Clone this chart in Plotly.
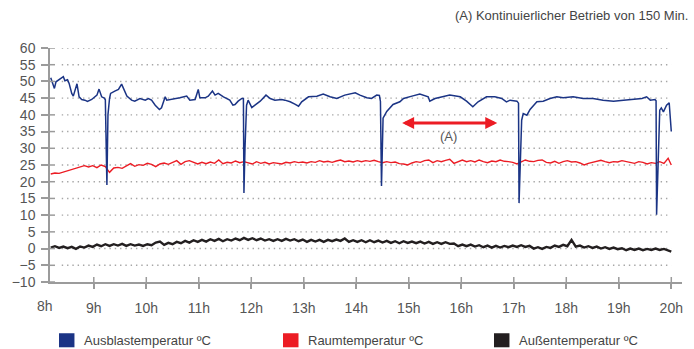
import plotly.graph_objects as go

# --- blow-out temperature (hours, ºC) ---------------------------------------
blow_t = [8.18, 8.25, 8.28, 8.42, 8.45, 8.50, 8.53, 8.58, 8.61, 8.66, 8.68, 8.72, 8.77, 8.83,
          8.88, 8.96, 9.06, 9.10, 9.15, 9.20, 9.22, 9.25, 9.27, 9.30, 9.32, 9.40, 9.47, 9.53,
          9.56, 9.63, 9.72, 9.78, 9.88, 9.98, 10.04, 10.10, 10.17, 10.25, 10.29, 10.36, 10.39,
          10.51, 10.64, 10.77, 10.83, 10.93, 10.99, 11.02, 11.12, 11.18, 11.26, 11.31, 11.37,
          11.47, 11.59, 11.65, 11.69, 11.75, 11.82, 11.85, 11.86, 11.88, 11.91, 11.94, 12.01,
          12.07, 12.17, 12.28, 12.36, 12.45, 12.58, 12.64, 12.74, 12.83, 12.90, 12.96, 13.09,
          13.25, 13.37, 13.50, 13.63, 13.78, 13.98, 14.07, 14.20, 14.29, 14.39, 14.44, 14.46,
          14.48, 14.51, 14.58, 14.64, 14.70, 14.83, 14.90, 15.06, 15.21, 15.37, 15.40, 15.50,
          15.66, 15.78, 15.98, 16.10, 16.22, 16.32, 16.48, 16.64, 16.77, 16.86, 16.93, 17.06,
          17.09, 17.10, 17.15, 17.18, 17.25, 17.31, 17.44, 17.56, 17.69, 17.82, 17.94, 18.13,
          18.32, 18.51, 18.70, 18.90, 19.09, 19.28, 19.44, 19.53, 19.60, 19.69, 19.71, 19.72,
          19.78, 19.81, 19.85, 19.91, 19.96, 20.00]
blow_v = [51.1, 47.9, 49.9, 51.4, 50.2, 50.5, 49.4, 46.4, 45.6, 48.9, 49.3, 45.4, 44.6, 44.4,
          44.0, 44.6, 45.9, 47.7, 45.4, 45.0, 44.5, 19.0, 40.0, 44.9, 46.4, 47.1, 47.6, 49.2,
          48.1, 45.6, 44.4, 44.1, 44.9, 44.4, 44.9, 44.4, 42.9, 41.6, 42.1, 45.4, 44.4,
          44.7, 45.1, 45.6, 44.4, 44.6, 47.6, 45.1, 45.1, 45.6, 47.1, 45.9, 46.4,
          45.4, 44.4, 42.9, 43.1, 44.1, 44.9, 44.9, 16.6, 30.0, 42.9, 44.4, 42.2,
          42.9, 44.1, 45.9, 44.9, 44.4, 44.6, 44.4, 43.9, 43.2, 42.6, 43.9, 45.4,
          45.6, 46.2, 45.4, 44.9, 45.9, 46.6, 45.9, 45.1, 44.9, 45.9, 45.8, 44.0,
          18.7, 39.0, 41.0, 42.1, 43.1, 43.9, 44.9, 45.6, 46.2, 45.4, 44.1, 44.9,
          45.4, 45.9, 45.4, 44.1, 42.4, 43.9, 45.4, 45.4, 44.9, 43.9, 44.4, 44.1,
          43.5, 13.6, 38.4, 40.4, 39.9, 41.6, 43.9, 44.1, 44.9, 45.4, 45.1, 45.4,
          44.9, 44.9, 44.4, 44.1, 44.4, 44.6, 44.9, 45.4, 44.4, 44.6, 44.2, 10.1,
          41.4, 42.1, 40.9, 42.9, 43.6, 35.0]

# --- room and outdoor temperature, logged on a common time base ---------------
log_t = [8.18, 8.26, 8.34, 8.42, 8.50, 8.58, 8.66, 8.74, 8.82, 8.90, 8.98, 9.06, 9.14, 9.22,
         9.30, 9.38, 9.46, 9.54, 9.62, 9.70, 9.78, 9.86, 9.94, 10.02, 10.10, 10.18, 10.26,
         10.34, 10.42, 10.50, 10.58, 10.66, 10.74, 10.82, 10.90, 10.98, 11.06, 11.14, 11.22,
         11.30, 11.38, 11.46, 11.54, 11.62, 11.70, 11.78, 11.86, 11.94, 12.02, 12.10, 12.18,
         12.26, 12.34, 12.42, 12.50, 12.58, 12.66, 12.74, 12.82, 12.90, 12.98, 13.06, 13.14,
         13.22, 13.30, 13.38, 13.46, 13.54, 13.62, 13.70, 13.78, 13.86, 13.94, 14.02, 14.10,
         14.18, 14.26, 14.34, 14.42, 14.50, 14.58, 14.66, 14.74, 14.82, 14.90, 14.98, 15.06,
         15.14, 15.22, 15.30, 15.38, 15.46, 15.54, 15.62, 15.70, 15.78, 15.86, 15.94, 16.02,
         16.10, 16.18, 16.26, 16.34, 16.42, 16.50, 16.58, 16.66, 16.74, 16.82, 16.90, 16.98,
         17.06, 17.14, 17.22, 17.30, 17.38, 17.46, 17.54, 17.62, 17.70, 17.78, 17.86, 17.94,
         18.02, 18.10, 18.18, 18.26, 18.34, 18.42, 18.50, 18.58, 18.66, 18.74, 18.82, 18.90,
         18.98, 19.06, 19.14, 19.22, 19.30, 19.38, 19.46, 19.54, 19.62, 19.70, 19.78, 19.86,
         19.94, 20.00]
room_v = [22.3, 22.6, 22.5, 22.9, 23.1, 23.5, 23.9, 24.4, 24.8, 24.4, 24.8, 24.2, 25.0, 24.5,
          22.8, 24.1, 24.3, 24.0, 24.8, 25.4, 24.6, 25.1, 24.9, 25.5, 25.2, 24.5, 25.3,
          25.6, 25.2, 25.8, 26.3, 25.2, 26.0, 26.3, 25.8, 25.3, 25.8, 25.4, 25.9,
          25.5, 26.5, 25.4, 25.8, 25.6, 26.2, 25.7, 26.0, 25.6, 25.3, 26.0, 25.5,
          25.8, 25.3, 25.7, 25.5, 25.3, 25.8, 25.6, 26.0, 25.7, 25.9, 25.6, 26.0,
          25.8, 26.3, 25.9, 26.1, 25.8, 26.2, 26.5, 26.0, 26.2, 25.9, 26.3, 26.0,
          26.3, 26.1, 26.4, 26.0, 25.7, 26.0, 25.7, 25.9, 25.4, 25.3, 25.0, 25.6,
          26.0, 25.8, 26.3, 26.5, 25.7, 26.3, 26.0, 26.4, 26.7, 25.5, 26.0, 26.5,
          26.0, 26.3, 25.9, 26.5, 26.0, 25.7, 26.2, 26.0, 26.5, 26.1, 26.0, 25.8,
          25.3, 26.0, 26.5, 26.1, 26.0, 26.4, 26.5, 25.8, 25.6, 26.1, 25.5, 26.0,
          26.3, 25.9, 26.0, 25.6, 25.0, 25.5, 25.8, 26.3, 26.4, 26.0, 25.7, 26.0,
          25.9, 26.3, 26.1, 25.8, 25.5, 26.0, 25.8, 25.3, 25.7, 25.5, 26.0, 25.5,
          27.0, 25.0]
outside_v = [0.3, 0.7, 0.2, 0.6, 0.1, 0.5, -0.1, 0.6, 0.3, 0.9, 0.5, 1.2, 0.7, 1.3,
             0.8, 1.3, 0.9, 1.4, 0.8, 1.3, 0.9, 1.2, 0.8, 1.3, 1.0, 1.8, 2.1,
             1.1, 1.7, 1.3, 2.0, 1.6, 2.3, 1.8, 2.5, 2.0, 2.6, 2.1, 2.8,
             2.3, 2.9, 2.2, 2.8, 2.4, 3.0, 2.5, 3.2, 2.6, 3.1, 2.5, 3.0,
             2.4, 2.8, 2.3, 2.8, 2.3, 2.9, 2.4, 2.8, 2.2, 2.7, 2.0, 2.6,
             2.1, 2.6, 2.0, 2.6, 2.2, 2.7, 2.3, 3.0, 2.0, 2.5, 2.0, 2.5,
             1.9, 2.5, 1.9, 2.4, 1.8, 2.3, 1.7, 2.2, 1.6, 2.2, 1.7, 2.1,
             1.6, 2.1, 1.5, 2.0, 1.4, 1.9, 1.4, 1.9, 1.4, 1.5, 0.7, 1.2,
             0.7, 1.2, 0.6, 1.0, 0.4, 0.9, 0.3, 0.8, 0.3, 0.8, 0.4, 0.9,
             0.5, 1.0, 0.5, 0.8, 0.0, 0.4, -0.1, 0.5, 0.2, 0.9, 0.5, 1.1,
             0.7, 2.6, 0.6, 0.9, 0.3, 0.7, 0.2, 0.6, 0.0, 0.4, -0.1, 0.3,
             -0.2, 0.1, -0.5, 0.0, -0.4, 0.0, -0.5, -0.1, -0.4, 0.0, -0.4, -0.1,
             -0.6, -0.9]

# --- axis definitions -----------------------------------------------------
x_ticks = list(range(9, 21))
x_labels = [f"{h}h" for h in x_ticks]
y_ticks = list(range(-10, 61, 5))
y_labels = [str(v).replace("-", "\u2212") for v in y_ticks]

X_START, X_END = 8.166, 20.204
GRID_X0, GRID_X1 = 8.39, 20.0

# continuous-run marker (A)
ARROW_Y = 37.6
ARROW_X0, ARROW_X1 = 14.845, 16.685

BLUE = "#1b3485"
RED = "#ec1c24"
BLACK = "#231f20"
AXIS = "#9b9b9b"
TEXT = "#555555"
FONT = "Liberation Sans, Arial, sans-serif"

fig = go.Figure()
fig.add_trace(go.Scatter(x=log_t, y=outside_v, mode="lines",
                         line=dict(color=BLACK, width=2.4), name="Außentemperatur ºC"))
fig.add_trace(go.Scatter(x=log_t, y=room_v, mode="lines",
                         line=dict(color=RED, width=1.4), name="Raumtemperatur ºC"))
fig.add_trace(go.Scatter(x=blow_t, y=blow_v, mode="lines",
                         line=dict(color=BLUE, width=1.5), name="Ausblastemperatur ºC"))

shapes = []
# dotted horizontal gridlines
for v in y_ticks[1:]:
    shapes.append(dict(type="line", xref="x", yref="y", x0=GRID_X0, x1=GRID_X1, y0=v, y1=v,
                       line=dict(color="#a6a6a6", width=1.4, dash="1.4px,3.9px"), layer="below"))
# inner halves of the axis ticks
for v in y_ticks:
    shapes.append(dict(type="line", xref="x", yref="y", xsizemode="pixel", xanchor=X_START,
                       x0=0, x1=5, y0=v, y1=v, line=dict(color=AXIS, width=1.5)))
for h in x_ticks:
    shapes.append(dict(type="line", xref="x", yref="y", ysizemode="pixel", yanchor=-10,
                       y0=0, y1=5, x0=h, x1=h, line=dict(color=AXIS, width=1.5)))

# legend swatches
legend_items = [("Ausblastemperatur ºC", BLUE, 0.0142),
                ("Raumtemperatur ºC", RED, 0.3687),
                ("Außentemperatur ºC", BLACK, 0.7025)]
annotations = []
for label, color, x0 in legend_items:
    shapes.append(dict(type="rect", xref="paper", yref="paper", x0=x0, x1=x0 + 0.0245,
                       y0=-0.279, y1=-0.219, fillcolor=color, line=dict(width=0)))
    annotations.append(dict(text=label, xref="paper", yref="paper", x=x0 + 0.037, y=-0.249,
                            xanchor="left", yanchor="middle", showarrow=False,
                            font=dict(size=13, color="#444444")))

annotations += [
    dict(text="(A) Kontinuierlicher Betrieb von 150 Min.", xref="paper", yref="paper",
         x=1.0127, y=1.141, xanchor="right", yanchor="middle", showarrow=False,
         font=dict(size=13, color="#444444")),
    # first hour label sits just left of the axis origin
    dict(text="8h", xref="paper", yref="paper", x=-0.008, y=0, xanchor="center",
         yanchor="top", yshift=-14, showarrow=False, font=dict(size=14, color=TEXT)),
    dict(text="", x=ARROW_X1, y=ARROW_Y, ax=ARROW_X0, ay=ARROW_Y, xref="x", yref="y",
         axref="x", ayref="y", showarrow=True, arrowhead=2, startarrowhead=2,
         arrowside="end+start", arrowsize=0.8, startarrowsize=0.8, arrowwidth=3,
         arrowcolor=RED, standoff=0, startstandoff=0),
    dict(text="(A)", xref="x", yref="y", x=15.75, y=33.5, showarrow=False,
         font=dict(size=13, color=TEXT)),
]

fig.update_layout(
    width=694, height=349,
    margin=dict(l=50, r=12, t=48, b=67),
    paper_bgcolor="white", plot_bgcolor="white",
    showlegend=False,
    font=dict(family=FONT, color=TEXT),
    shapes=shapes, annotations=annotations,
    xaxis=dict(range=[X_START, X_END], tickvals=x_ticks, ticktext=x_labels,
               showgrid=False, zeroline=False, showline=True, linecolor=AXIS, linewidth=1.5,
               ticks="outside", ticklen=5, tickwidth=1.5, tickcolor=AXIS,
               ticklabelstandoff=7, tickfont=dict(size=14, color=TEXT)),
    yaxis=dict(range=[-10, 60], tickvals=y_ticks, ticktext=y_labels,
               showgrid=False, zeroline=False, showline=True, linecolor=AXIS, linewidth=1.5,
               ticks="outside", ticklen=7, tickwidth=1.5, tickcolor=AXIS,
               ticklabelstandoff=3, tickfont=dict(size=14, color=TEXT)),
)

fig.write_html("out.html")
